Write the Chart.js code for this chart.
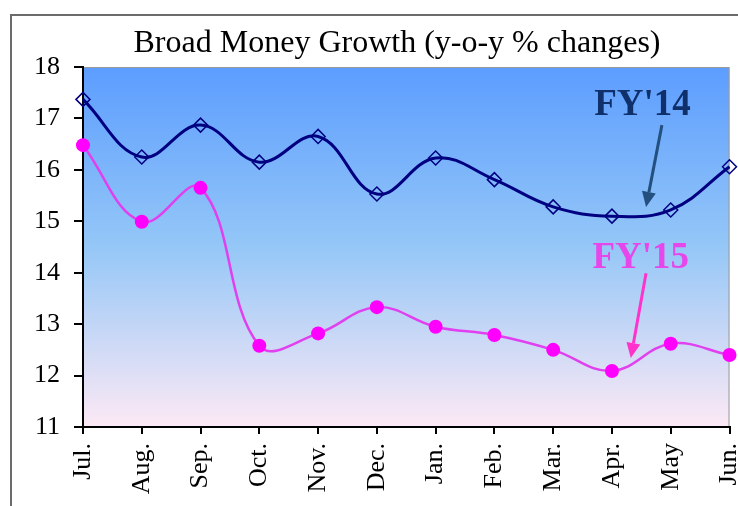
<!DOCTYPE html>
<html>
<head>
<meta charset="utf-8">
<title>Broad Money Growth</title>
<script src="https://cdn.jsdelivr.net/npm/chart.js@4"></script>
<style>
  body { margin: 0; background: #fff; }
</style>
</head>
<body>
<canvas id="chart" width="738" height="506"></canvas>
<script>
// -------- DATA --------
const months = ["Jul.", "Aug.", "Sep.", "Oct.", "Nov.", "Dec.", "Jan.", "Feb.", "Mar.", "Apr.", "May", "Jun."];
const fy14 = [17.37, 16.25, 16.87, 16.15, 16.65, 15.53, 16.23, 15.81, 15.28, 15.1, 15.22, 16.06];
const fy15 = [16.48, 14.99, 15.65, 12.58, 12.82, 13.33, 12.95, 12.79, 12.5, 12.09, 12.62, 12.4];
const yTicks = [11, 12, 13, 14, 15, 16, 17, 18];

const serif = "'Liberation Serif', 'Times New Roman', serif";

// -------- PLUGIN: background, frame, title, callouts --------
function arrow(ctx, x1, y1, x2, y2, color) {
    const ang = Math.atan2(y2 - y1, x2 - x1);
    const head = 15, half = 7;
    ctx.save();
    ctx.strokeStyle = color;
    ctx.fillStyle = color;
    ctx.lineWidth = 3;
    ctx.beginPath();
    ctx.moveTo(x1, y1);
    ctx.lineTo(x2 - head * Math.cos(ang), y2 - head * Math.sin(ang));
    ctx.stroke();
    ctx.beginPath();
    ctx.moveTo(x2, y2);
    ctx.lineTo(x2 - head * Math.cos(ang) + half * Math.sin(ang), y2 - head * Math.sin(ang) - half * Math.cos(ang));
    ctx.lineTo(x2 - head * Math.cos(ang) - half * Math.sin(ang), y2 - head * Math.sin(ang) + half * Math.cos(ang));
    ctx.closePath();
    ctx.fill();
    ctx.restore();
}

const decor = {
    id: "decor",
    beforeDraw(chart) {
        const ctx = chart.ctx;
        const a = chart.chartArea;
        ctx.save();
        // outer frame
        ctx.strokeStyle = "#6b6b6b";
        ctx.lineWidth = 2;
        ctx.beginPath();
        ctx.moveTo(11, 520);
        ctx.lineTo(11, 15);
        ctx.lineTo(760, 15);
        ctx.stroke();
        // plot background
        const g = ctx.createLinearGradient(0, a.top, 0, a.bottom);
        g.addColorStop(0, "#5c9dff");
        g.addColorStop(0.5, "#95c7f7");
        g.addColorStop(1, "#fde9f5");
        ctx.fillStyle = g;
        ctx.fillRect(a.left, a.top, a.right - a.left, a.bottom - a.top);
        ctx.strokeStyle = "#9a9a9a";
        ctx.lineWidth = 1;
        ctx.beginPath();
        ctx.moveTo(a.left, a.top + 0.5);
        ctx.lineTo(a.right - 0.5, a.top + 0.5);
        ctx.lineTo(a.right - 0.5, a.bottom);
        ctx.stroke();
        // title
        ctx.fillStyle = "#000";
        ctx.font = "32px " + serif;
        ctx.textAlign = "center";
        ctx.textBaseline = "alphabetic";
        ctx.fillText("Broad Money Growth (y-o-y % changes)", 397, 52);
        ctx.restore();
    },
    afterDatasetsDraw(chart) {
        const ctx = chart.ctx;
        const x = chart.scales.x, y = chart.scales.y;
        const px = v => x.getPixelForValue(v);
        const py = v => y.getPixelForValue(v);
        ctx.save();
        ctx.font = "bold 37px " + serif;
        ctx.textAlign = "center";
        ctx.textBaseline = "middle";
        ctx.fillStyle = "#10306b";
        ctx.fillText("FY'14", px(9.52), py(17.25));
        ctx.fillStyle = "#e646ea";
        ctx.fillText("FY'15", px(9.49), py(14.28));
        ctx.restore();
        arrow(ctx, px(9.85), py(16.87), px(9.58), py(15.28), "#23507f");
        arrow(ctx, px(9.58), py(13.99), px(9.32), py(12.34), "#ff33cc");
    }
};

// -------- CHART --------
new Chart(document.getElementById("chart").getContext("2d"), {
    type: "line",
    data: {
        labels: months,
        datasets: [{
            label: "FY'14",
            data: fy14,
            borderColor: "#000080",
            borderWidth: 3,
            pointStyle: "rectRot",
            pointRadius: 7,
            pointBorderWidth: 1.5,
            pointBorderColor: "#000080",
            pointBackgroundColor: "rgba(0,0,0,0)",
            tension: 0.4,
            clip: false
        }, {
            label: "FY'15",
            data: fy15,
            borderColor: "#e040f0",
            borderWidth: 2.5,
            pointStyle: "circle",
            pointRadius: 7,
            pointBorderWidth: 0,
            pointBackgroundColor: "#ff00ff",
            tension: 0.4,
            clip: false
        }]
    },
    options: {
        responsive: false,
        animation: false,
        layout: { padding: { top: 67, right: 7, bottom: 0, left: 0 } },
        plugins: {
            legend: { display: false },
            title: { display: false },
            tooltip: { enabled: false }
        },
        scales: {
            x: {
                offset: false,
                afterFit: s => { s.height = 79; s.paddingLeft = 0; s.paddingRight = 0; },
                grid: { drawOnChartArea: false, tickLength: 7, color: "#000", lineWidth: 2 },
                border: { color: "#000", width: 2 },
                ticks: {
                    autoSkip: false,
                    maxRotation: 90,
                    minRotation: 90,
                    padding: 9,
                    color: "#000",
                    font: { family: serif, size: 26 }
                }
            },
            y: {
                min: yTicks[0],
                max: yTicks[yTicks.length - 1],
                afterFit: s => { s.width = 83; s.paddingTop = 0; s.paddingBottom = 0; },
                afterBuildTicks: s => { s.ticks = yTicks.map(v => ({ value: v })); },
                grid: { drawOnChartArea: false, tickLength: 9, color: "#000", lineWidth: 2 },
                border: { color: "#000", width: 2 },
                ticks: {
                    padding: 14,
                    color: "#000",
                    font: { family: serif, size: 26 }
                }
            }
        }
    },
    plugins: [decor]
});
</script>
</body>
</html>
